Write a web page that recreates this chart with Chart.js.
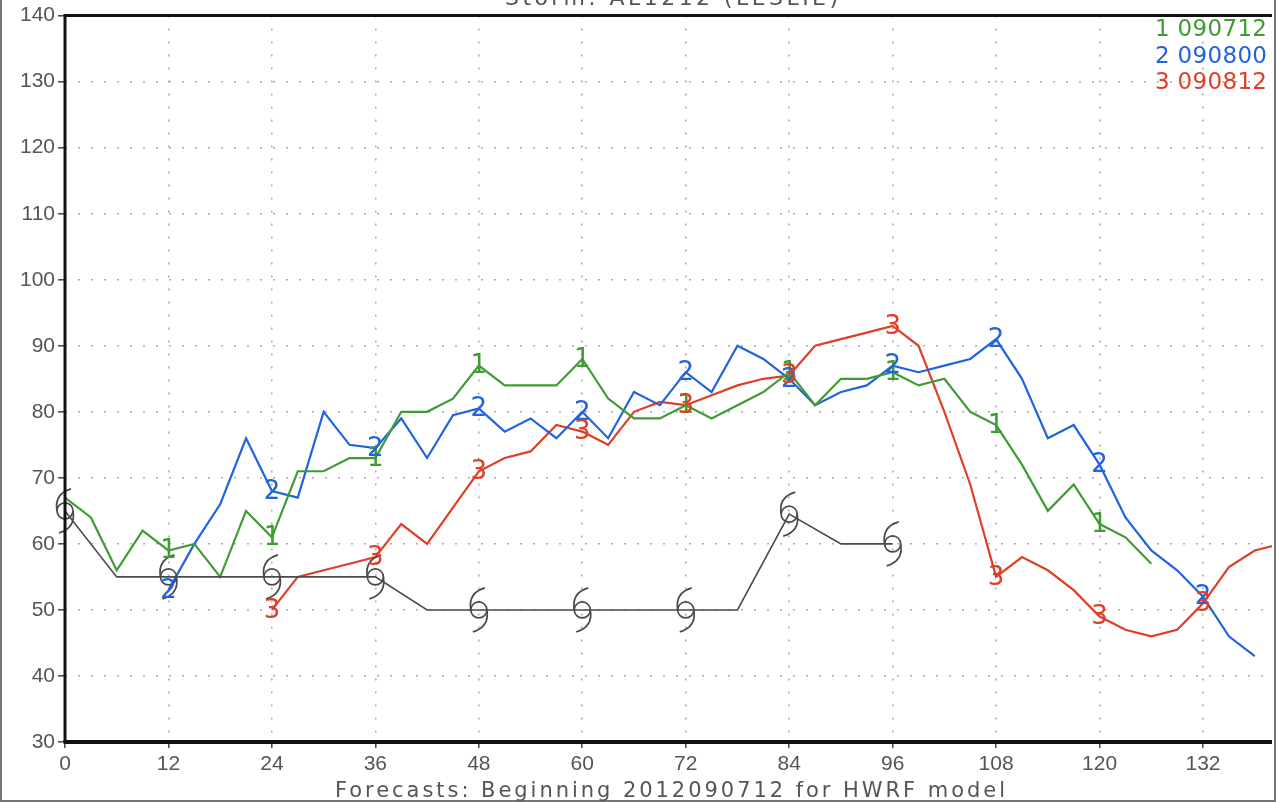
<!DOCTYPE html>
<html>
<head>
<meta charset="utf-8">
<title>HWRF intensity forecasts</title>
<script src="https://cdn.jsdelivr.net/npm/chart.js@4.4.1/dist/chart.umd.min.js"></script>
<style>
  html, body { margin: 0; padding: 0; background: #fff; }
  canvas { display: block; }
</style>
</head>
<body>
<canvas id="myChart" width="1276" height="803"></canvas>
<script>
// forecast hours and max wind (kt) for each model run
const hours1 = [0, 3, 6, 9, 12, 15, 18, 21, 24, 27, 30, 33, 36, 39, 42, 45, 48, 51, 54, 57, 60, 63, 66, 69, 72, 75, 78, 81, 84, 87, 90, 93, 96, 99, 102, 105, 108, 111, 114, 117, 120, 123, 126];
const wind1 = [67, 64, 56, 62, 59, 60, 55, 65, 61, 71, 71, 73, 73, 80, 80, 82, 87, 84, 84, 84, 88, 82, 79, 79, 81, 79, 81, 83, 86, 81, 85, 85, 86, 84, 85, 80, 78, 72, 65, 69, 63, 61, 57];

const hours2 = [12, 15, 18, 21, 24, 27, 30, 33, 36, 39, 42, 45, 48, 51, 54, 57, 60, 63, 66, 69, 72, 75, 78, 81, 84, 87, 90, 93, 96, 99, 102, 105, 108, 111, 114, 117, 120, 123, 126, 129, 132, 135, 138];
const wind2 = [53, 60, 66, 76, 68, 67, 80, 75, 74.5, 79, 73, 79.5, 80.5, 77, 79, 76, 80, 76, 83, 81, 86, 83, 90, 88, 85, 81, 83, 84, 87, 86, 87, 88, 91, 85, 76, 78, 72, 64, 59, 56, 52, 46, 43];

const hours3 = [24, 27, 30, 33, 36, 39, 42, 45, 48, 51, 54, 57, 60, 63, 66, 69, 72, 75, 78, 81, 84, 87, 90, 93, 96, 99, 102, 105, 108, 111, 114, 117, 120, 123, 126, 129, 132, 135, 138, 141];
const wind3 = [50, 55, 56, 57, 58, 63, 60, 65.5, 71, 73, 74, 78, 77, 75, 80, 81.5, 81, 82.5, 84, 85, 85.5, 90, 91, 92, 93, 90, 80, 69, 55, 58, 56, 53, 49, 47, 46, 47, 51, 56.5, 59, 60];

const trackHours = [0, 6, 12, 18, 24, 30, 36, 42, 48, 54, 60, 66, 72, 78, 84, 90, 96];
const trackWind = [65, 55, 55, 55, 55, 55, 55, 50, 50, 50, 50, 50, 50, 50, 64.5, 60, 60];

const xTicks = [0, 12, 24, 36, 48, 60, 72, 84, 96, 108, 120, 132];
const yTicks = [30, 40, 50, 60, 70, 80, 90, 100, 110, 120, 130, 140];
const runLabels = ['1 090712', '2 090800', '3 090812'];

const colors = {
  green: '#3f9c32',
  blue: '#2263de',
  red: '#df3f26',
  track: '#4a4a4a',
  grid: '#acacac',
  text: '#555555',
};

const toPoints = function (hrs, vals) {
  return hrs.map(function (h, i) {
    return {x: h, y: vals[i]};
  });
};

// text stretched to a given width, like the wide plotting font of the original
const fitText = function (ctx, text, left, baseline, width, font, color) {
  ctx.save();
  ctx.font = font;
  ctx.letterSpacing = '0px';
  const w = ctx.measureText(text).width;
  const gap = (width - w) / (text.length - 1);
  ctx.letterSpacing = gap + 'px';
  ctx.fillStyle = color;
  ctx.textAlign = 'left';
  ctx.textBaseline = 'alphabetic';
  ctx.fillText(text, left, baseline);
  ctx.restore();
};

const drawStormSymbol = function (ctx, x, y) {
  ctx.save();
  ctx.strokeStyle = colors.track;
  ctx.lineWidth = 1.7;
  ctx.beginPath();
  ctx.arc(x, y, 8, 0, Math.PI * 2);
  ctx.stroke();
  ctx.beginPath();
  ctx.moveTo(x + 6, y - 22);
  ctx.quadraticCurveTo(x - 11, y - 17, x - 8, y);
  ctx.stroke();
  ctx.beginPath();
  ctx.moveTo(x + 8, y);
  ctx.quadraticCurveTo(x + 11, y + 17, x - 6, y + 22);
  ctx.stroke();
  ctx.restore();
};

const markerPlugin = {
  id: 'markers',
  afterDatasetsDraw: function (chart) {
    const ctx = chart.ctx;
    chart.data.datasets.forEach(function (ds, i) {
      const meta = chart.getDatasetMeta(i);
      meta.data.forEach(function (pt, j) {
        const h = ds.data[j].x;
        if (h % 12 !== 0 || h > 132) return;
        if (ds.storm) {
          drawStormSymbol(ctx, pt.x, pt.y);
          return;
        }
        if (ds.markerFrom !== undefined && h < ds.markerFrom) return;
        ctx.save();
        ctx.font = '26px "DejaVu Sans"';
        ctx.fillStyle = ds.borderColor;
        ctx.textAlign = 'center';
        ctx.textBaseline = 'middle';
        ctx.fillText(ds.marker, pt.x, pt.y + 1);
        ctx.restore();
      });
    });
  },
};

const framePlugin = {
  id: 'frame',
  afterDraw: function (chart) {
    const ctx = chart.ctx;
    const a = chart.chartArea;
    ctx.save();
    ctx.strokeStyle = '#111';
    ctx.lineWidth = 3;
    ctx.beginPath();
    ctx.moveTo(a.right, a.top);
    ctx.lineTo(a.left, a.top);
    ctx.lineTo(a.left, a.bottom);
    ctx.stroke();
    ctx.lineWidth = 4;
    ctx.beginPath();
    ctx.moveTo(a.left - 1.5, a.bottom);
    ctx.lineTo(a.right, a.bottom);
    ctx.stroke();

    // outer picture border
    ctx.strokeStyle = '#777';
    ctx.lineWidth = 2;
    ctx.beginPath();
    ctx.moveTo(1, 0);
    ctx.lineTo(1, 801);
    ctx.lineTo(1275, 801);
    ctx.lineTo(1275, 0);
    ctx.stroke();
    ctx.restore();

    fitText(ctx, 'Storm: AL1212 (LESLIE)', 505, 5, 333, '22px "DejaVu Sans"', '#555');
    fitText(ctx, 'Forecasts: Beginning 2012090712 for HWRF model', 335, 797, 670, '21px "DejaVu Sans"', '#555');

    const legendColors = [colors.green, colors.blue, colors.red];
    const baselines = [36, 63, 89];
    runLabels.forEach(function (label, i) {
      fitText(ctx, label, 1155, baselines[i], 112, '23px "DejaVu Sans"', legendColors[i]);
    });
  },
};

const app = {
  initChart: function () {
    const thisApp = this;

    thisApp.ctx = document.getElementById('myChart').getContext('2d');
    thisApp.chart = new Chart(thisApp.ctx, {
      type: 'line',
      data: {
        datasets: [
          {
            label: 'track',
            data: toPoints(trackHours, trackWind),
            borderColor: colors.track,
            borderWidth: 1.6,
            storm: true,
          },
          {
            label: runLabels[0],
            data: toPoints(hours1, wind1),
            borderColor: colors.green,
            borderWidth: 2.2,
            marker: '1',
            markerFrom: 12,
          },
          {
            label: runLabels[1],
            data: toPoints(hours2, wind2),
            borderColor: colors.blue,
            borderWidth: 2.2,
            marker: '2',
          },
          {
            label: runLabels[2],
            data: toPoints(hours3, wind3),
            borderColor: colors.red,
            borderWidth: 2.2,
            marker: '3',
          },
        ],
      },
      options: {
        responsive: false,
        devicePixelRatio: 1,
        animation: false,
        events: [],
        elements: {
          point: {radius: 0},
          line: {tension: 0, fill: false},
        },
        layout: {padding: {top: 15, right: 4, left: 0, bottom: 0}},
        plugins: {
          legend: {display: false},
          title: {display: false},
          tooltip: {enabled: false},
        },
        scales: {
          x: {
            type: 'linear',
            min: 0,
            max: 140,
            afterBuildTicks: function (scale) {
              scale.ticks = xTicks.map(function (v) { return {value: v}; });
            },
            afterFit: function (scale) {
              scale.height = 61;
            },
            grid: {
              color: colors.grid,
              lineWidth: 1.6,
              tickColor: '#444',
              tickLength: 6,
              tickWidth: 1.5,
            },
            border: {display: false, dash: [2, 11]},
            ticks: {
              color: colors.text,
              font: {family: 'Liberation Sans', size: 21},
              padding: 4,
              maxRotation: 0,
            },
          },
          y: {
            type: 'linear',
            min: 30,
            max: 140,
            afterBuildTicks: function (scale) {
              scale.ticks = yTicks.map(function (v) { return {value: v}; });
            },
            afterFit: function (scale) {
              scale.width = 65;
            },
            grid: {
              color: colors.grid,
              lineWidth: 1.6,
              tickColor: '#444',
              tickLength: 7,
              tickWidth: 1.5,
            },
            border: {display: false, dash: [2, 11]},
            ticks: {
              color: colors.text,
              font: {family: 'Liberation Sans', size: 21},
              padding: 3,
            },
          },
        },
      },
      plugins: [markerPlugin, framePlugin],
    });
  },
  init: function () {
    const thisApp = this;

    thisApp.initChart();
  },
};

app.init();
</script>
</body>
</html>
